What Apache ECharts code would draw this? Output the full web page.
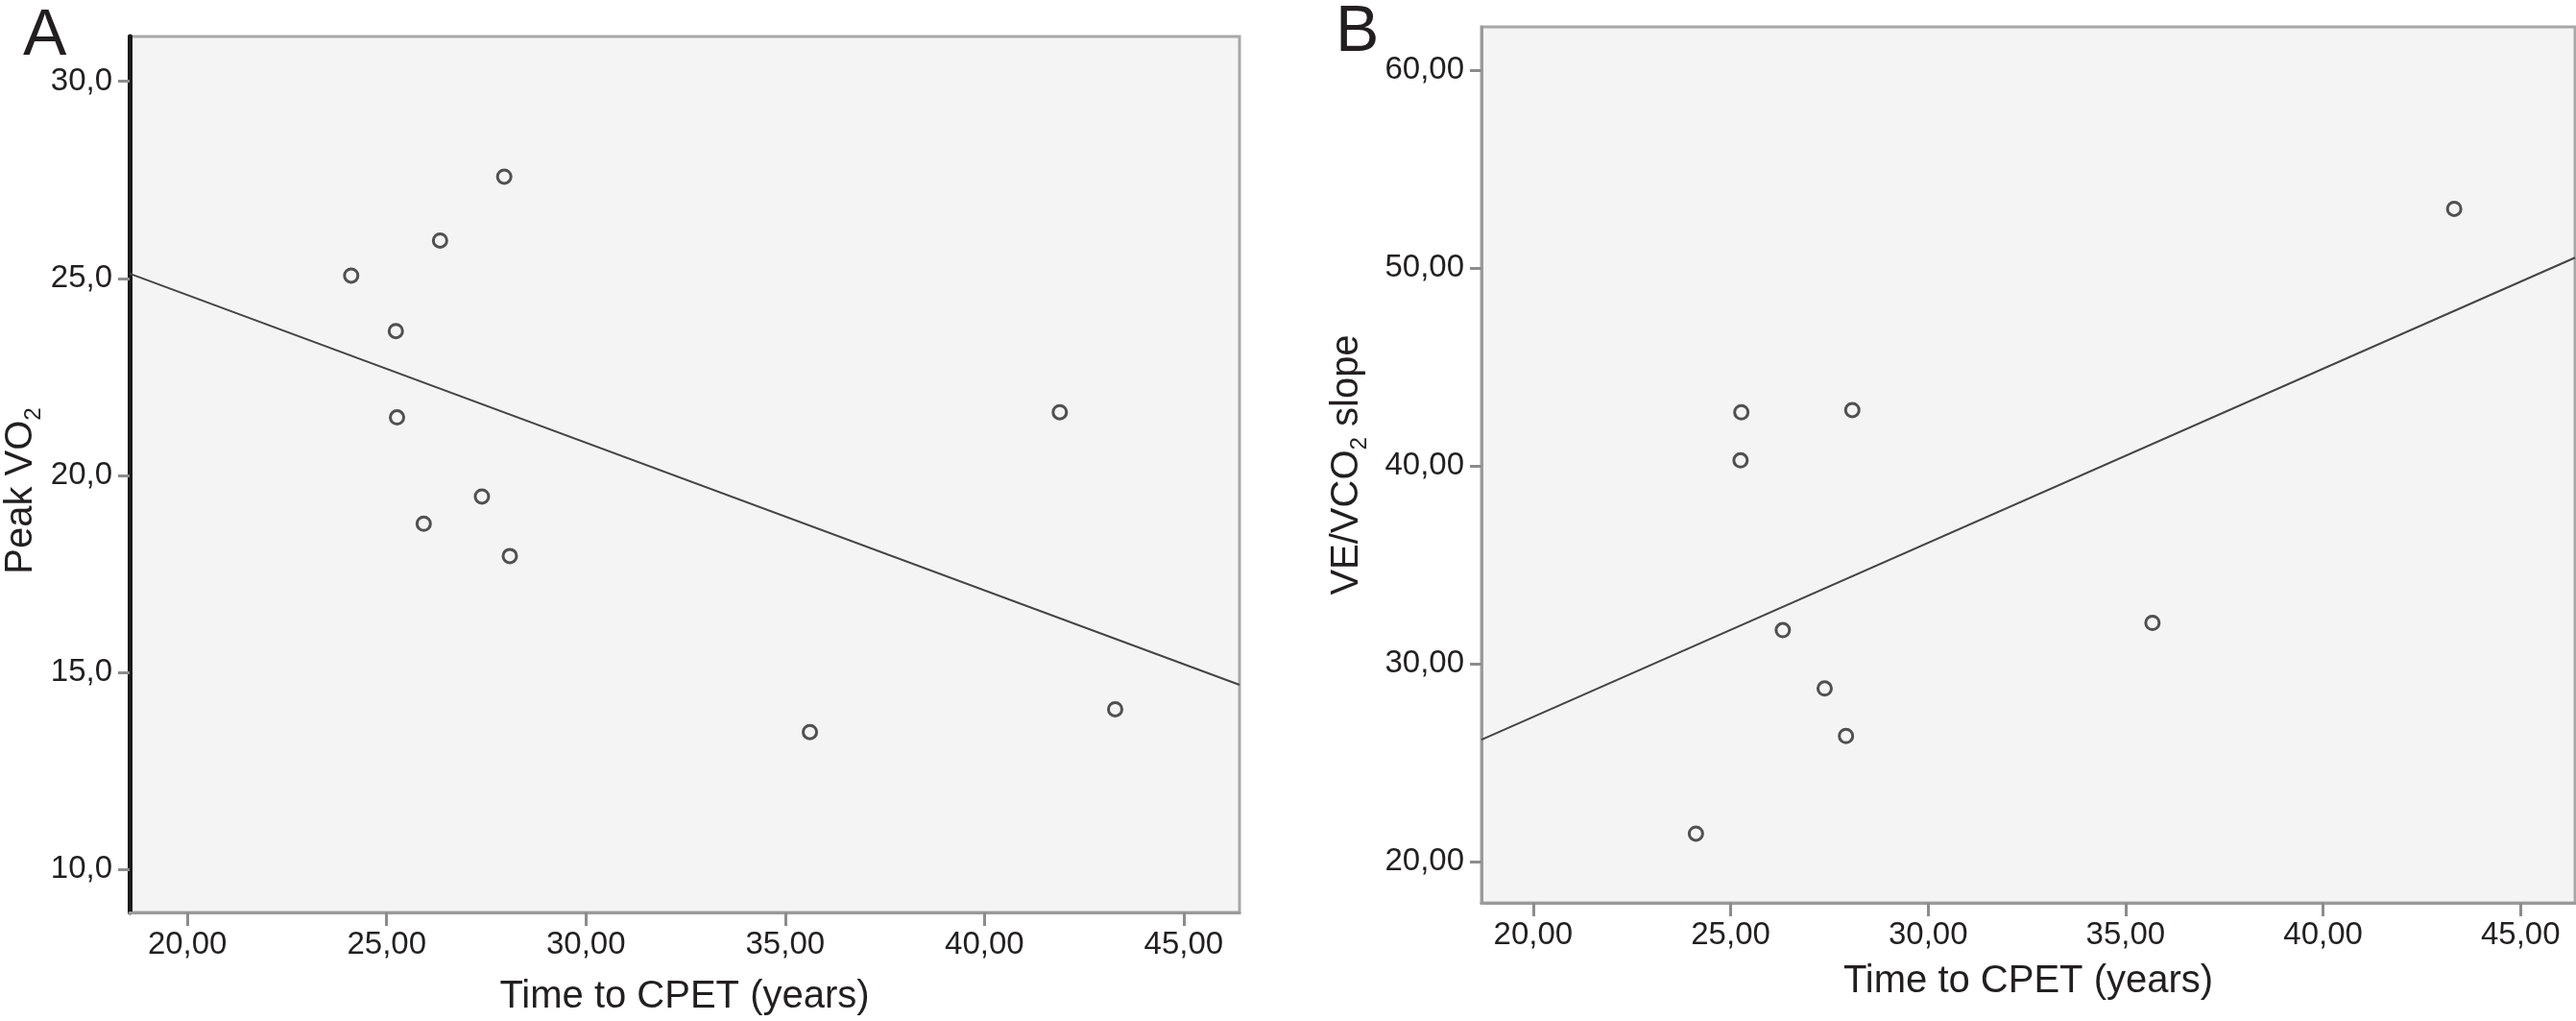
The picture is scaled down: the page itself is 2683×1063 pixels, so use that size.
<!DOCTYPE html>
<html>
<head>
<meta charset="utf-8">
<script src="https://cdn.jsdelivr.net/npm/echarts@6/dist/echarts.min.js"></script>
<style>
  html, body { margin: 0; padding: 0; background: #ffffff; }
  #chart { width: 2683px; height: 1063px; }
</style>
</head>
<body>
<div id="chart"></div>
<script>
// ---- Data ----
// Panel A: Peak VO2 vs Time to CPET
const timeA = [24.11, 25.23, 26.34, 27.95, 25.26, 25.93, 27.39, 28.09, 35.62, 41.89, 43.28];
const peakVO2 = [25.07, 23.66, 25.96, 27.58, 21.47, 18.77, 19.46, 17.95, 13.48, 21.60, 14.06];
const fitLineAx = [18.55, 46.40];
const fitLineAy = [25.12, 14.68];

// Panel B: VE/VCO2 slope vs Time to CPET
const timeB = [25.27, 28.08, 25.25, 26.32, 27.38, 27.92, 24.12, 35.68, 43.32];
const veVco2 = [42.71, 42.82, 40.28, 31.69, 28.74, 26.34, 21.40, 32.06, 53.00];
const fitLineBx = [18.69, 46.38];
const fitLineBy = [26.15, 50.53];

// Tick values
const xTicks = [20, 25, 30, 35, 40, 45];
const yTicksA = [10, 15, 20, 25, 30];
const yTicksB = [20, 30, 40, 50, 60];

// Axis extents
const xRangeA = [18.55, 46.40];
const yRangeA = [8.90, 31.14];
const xRangeB = [18.69, 46.38];
const yRangeB = [17.90, 62.20];

// ---- Build ----
const FONT = '"Liberation Sans", Arial, Helvetica, sans-serif';
const TXT = '#231f20';
const pairs = (xs, ys) => xs.map((x, i) => [x, ys[i]]);
const fmt = d => v => v.toFixed(d).replace('.', ',');

function xAxisCfg(gridIndex, range, nameGap) {
  return {
    type: 'value', gridIndex, min: range[0], max: range[1],
    name: 'Time to CPET (years)', nameLocation: 'middle', nameGap,
    nameTextStyle: { fontFamily: FONT, fontSize: 40, color: TXT },
    axisLine: { show: true, lineStyle: { color: '#9a9a9a', width: 3 } },
    axisTick: { show: true, customValues: xTicks, length: 14, lineStyle: { color: '#8c8c8c', width: 3 } },
    axisLabel: { customValues: xTicks, formatter: fmt(2), fontFamily: FONT, fontSize: 33, color: TXT, margin: 17 },
    splitLine: { show: false }
  };
}

const option = {
  animation: false,
  backgroundColor: '#ffffff',
  graphic: [
    { type: 'text', left: 24, top: 4, style: { text: 'A', font: '68px ' + FONT, fill: TXT } },
    { type: 'text', left: 1391, top: 0, style: { text: 'B', font: '68px ' + FONT, fill: TXT } }
  ],
  grid: [
    { left: 135, top: 38, width: 1156, height: 918, show: true, backgroundColor: '#f4f4f4', borderColor: '#a8a8a8', borderWidth: 3 },
    { left: 1543, top: 28, width: 1139, height: 912, show: true, backgroundColor: '#f4f4f4', borderColor: '#a8a8a8', borderWidth: 3 }
  ],
  xAxis: [
    xAxisCfg(0, xRangeA, 68),
    xAxisCfg(1, xRangeB, 62)
  ],
  yAxis: [
    {
      type: 'value', gridIndex: 0, min: yRangeA[0], max: yRangeA[1],
      name: '{t|Peak VO}{s|2}', nameLocation: 'middle', nameGap: 88,
      nameTextStyle: {
        padding: [0, 34, 0, 0],
        rich: {
          t: { fontFamily: FONT, fontSize: 40, color: TXT, lineHeight: 50, verticalAlign: 'middle' },
          s: { fontFamily: FONT, fontSize: 24, color: TXT, lineHeight: 50, verticalAlign: 'bottom' }
        }
      },
      axisLine: { show: true, lineStyle: { color: '#1a1a1a', width: 5 } },
      axisTick: { show: true, customValues: yTicksA, length: 12, lineStyle: { color: '#8c8c8c', width: 3 } },
      axisLabel: { customValues: yTicksA, formatter: fmt(1), fontFamily: FONT, fontSize: 33, color: TXT, margin: 18 },
      splitLine: { show: false }
    },
    {
      type: 'value', gridIndex: 1, min: yRangeB[0], max: yRangeB[1],
      name: '{t|VE/VCO}{s|2}{t| slope}', nameLocation: 'middle', nameGap: 115,
      nameTextStyle: {
        rich: {
          t: { fontFamily: FONT, fontSize: 40, color: TXT, lineHeight: 50, verticalAlign: 'middle' },
          s: { fontFamily: FONT, fontSize: 24, color: TXT, lineHeight: 50, verticalAlign: 'bottom' }
        }
      },
      axisLine: { show: true, lineStyle: { color: '#9a9a9a', width: 3 } },
      axisTick: { show: true, customValues: yTicksB, length: 12, lineStyle: { color: '#8c8c8c', width: 3 } },
      axisLabel: { customValues: yTicksB, formatter: fmt(2), fontFamily: FONT, fontSize: 33, color: TXT, margin: 18 },
      splitLine: { show: false }
    }
  ],
  series: [
    {
      type: 'line', xAxisIndex: 0, yAxisIndex: 0, data: pairs(fitLineAx, fitLineAy),
      symbol: 'none', lineStyle: { color: '#444444', width: 2 }, silent: true, z: 2
    },
    {
      type: 'scatter', xAxisIndex: 0, yAxisIndex: 0, data: pairs(timeA, peakVO2),
      symbol: 'circle', symbolSize: 14,
      itemStyle: { color: '#f4f4f4', borderColor: '#505050', borderWidth: 3, opacity: 1 }, z: 3
    },
    {
      type: 'line', xAxisIndex: 1, yAxisIndex: 1, data: pairs(fitLineBx, fitLineBy),
      symbol: 'none', lineStyle: { color: '#444444', width: 2 }, silent: true, z: 2
    },
    {
      type: 'scatter', xAxisIndex: 1, yAxisIndex: 1, data: pairs(timeB, veVco2),
      symbol: 'circle', symbolSize: 14,
      itemStyle: { color: '#f4f4f4', borderColor: '#505050', borderWidth: 3, opacity: 1 }, z: 3
    }
  ]
};

const chart = echarts.init(document.getElementById('chart'), null, { renderer: 'canvas' });
chart.setOption(option);
</script>
</body>
</html>
